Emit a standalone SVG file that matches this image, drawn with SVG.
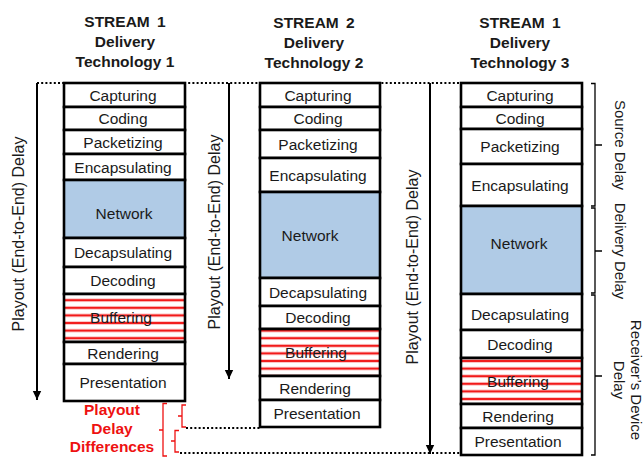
<svg xmlns="http://www.w3.org/2000/svg" width="644" height="457" viewBox="0 0 644 457">
  <defs>
    <style>
      text { font-family: "Liberation Sans", Arial, sans-serif; fill: #1a1a1a; }
      .title { font-size: 15.5px; font-weight: bold; text-anchor: middle; }
      .lbl { font-size: 15.5px; text-anchor: middle; dominant-baseline: central; }
      .side { font-size: 16px; text-anchor: middle; dominant-baseline: central; }
      .rside { font-size: 15px; text-anchor: middle; dominant-baseline: central; }
      .red { font-size: 15.5px; font-weight: bold; text-anchor: middle; fill: #ee1111; }
      .cell { fill: #ffffff; stroke: #000000; stroke-width: 2.6; }
      .net { fill: #b0cbe6; stroke: #000000; stroke-width: 2.6; }
      .buf { fill: url(#stripes); stroke: #000000; stroke-width: 2.6; }
      .dot { fill: none; stroke: #000000; stroke-width: 2; stroke-dasharray: 2 2.2; }
      .axis { fill: none; stroke: #000000; stroke-width: 2; }
      .brace { fill: none; stroke: #000000; stroke-width: 1.3; }
      .rbrace { fill: none; stroke: #ee1111; stroke-width: 1.3; }
    </style>
    <pattern id="stripes" patternUnits="userSpaceOnUse" width="8" height="7.6">
      <rect width="8" height="7.6" fill="#ffffff"/>
      <rect y="2.6" width="8" height="2.4" fill="#f21a1a"/>
    </pattern>
    <marker id="arrow" markerWidth="10" markerHeight="10" refX="9" refY="5" orient="auto" markerUnits="userSpaceOnUse">
      <path d="M0,0.8 L9,5 L0,9.2 Z" fill="#000000"/>
    </marker>
  </defs>

  <!-- connectors: reference lines, delay axes and braces -->
  <g id="connectors">
    <path class="dot" d="M37,83 H462"/>
    <path class="dot" d="M186,428 H260"/>
    <path class="dot" d="M180,453 H461"/>
    <path class="axis" d="M37,83 V400" marker-end="url(#arrow)"/>
    <path class="axis" d="M229,83 V379" marker-end="url(#arrow)"/>
    <path class="axis" d="M430,83 V454" marker-end="url(#arrow)"/>
    <path class="brace" d="M591,83.5 H595 V206 H591 M595,145 H602"/>
    <path class="brace" d="M591,208 H595 V293 H591 M595,251 H602"/>
    <path class="brace" d="M591,295 H595 V455 H591 M595,376 H602"/>
    <path class="rbrace" d="M167,403.5 H163 V456 H167 M163,430 H159"/>
    <path class="rbrace" d="M186,405 H182 V427 H186 M182,416 H178"/>
    <path class="rbrace" d="M179,430.5 H175 V452 H179 M175,441 H171"/>
  </g>

  <!-- delay axis labels -->
  <text class="side" transform="translate(18,234) rotate(-90)">Playout (End-to-End) Delay</text>
  <text class="side" transform="translate(214,232) rotate(-90)">Playout (End-to-End) Delay</text>
  <text class="side" transform="translate(412,267) rotate(-90)">Playout (End-to-End) Delay</text>

  <!-- right-hand delay categories -->
  <text class="rside" transform="translate(620,145) rotate(90)">Source Delay</text>
  <text class="rside" transform="translate(620,251) rotate(90)">Delivery Delay</text>
  <text class="rside" transform="translate(636,380) rotate(90)">Receiver’s Device</text>
  <text class="rside" transform="translate(619,380) rotate(90)">Delay</text>

  <!-- difference label -->
  <g id="playout-diff">
    <text class="red" x="112" y="415">Playout</text>
    <text class="red" x="112" y="434">Delay</text>
    <text class="red" x="112" y="452">Differences</text>
  </g>

  <!-- stream 1, delivery technology 1 -->
  <g id="stack1">
    <text class="title" x="125" y="27" word-spacing="3">STREAM 1</text>
    <text class="title" x="125" y="47">Delivery</text>
    <text class="title" x="125" y="67">Technology 1</text>
    <rect class="cell" x="64" y="83" width="121" height="24"/>
    <rect class="cell" x="64" y="107" width="121" height="23"/>
    <rect class="cell" x="64" y="130" width="121" height="24"/>
    <rect class="cell" x="64" y="154" width="121" height="26"/>
    <rect class="net" x="64" y="180" width="121" height="58"/>
    <rect class="cell" x="64" y="238" width="121" height="29"/>
    <rect class="cell" x="64" y="267" width="121" height="27"/>
    <rect class="buf" x="64" y="294" width="121" height="48"/>
    <rect class="cell" x="64" y="342" width="121" height="22"/>
    <rect class="cell" x="64" y="364" width="121" height="37"/>
    <text class="lbl" x="123" y="95">Capturing</text>
    <text class="lbl" x="123" y="118.5">Coding</text>
    <text class="lbl" x="123" y="142">Packetizing</text>
    <text class="lbl" x="123" y="167">Encapsulating</text>
    <text class="lbl" x="124" y="213">Network</text>
    <text class="lbl" x="123" y="252.5">Decapsulating</text>
    <text class="lbl" x="123" y="280.5">Decoding</text>
    <text class="lbl" x="121" y="317">Buffering</text>
    <text class="lbl" x="123" y="353">Rendering</text>
    <text class="lbl" x="123" y="382.5">Presentation</text>
  </g>

  <!-- stream 2, delivery technology 2 -->
  <g id="stack2">
    <text class="title" x="314" y="28" word-spacing="3">STREAM 2</text>
    <text class="title" x="314" y="48">Delivery</text>
    <text class="title" x="314" y="68">Technology 2</text>
    <rect class="cell" x="260" y="83" width="120" height="24"/>
    <rect class="cell" x="260" y="107" width="120" height="23"/>
    <rect class="cell" x="260" y="130" width="120" height="28"/>
    <rect class="cell" x="260" y="158" width="120" height="34"/>
    <rect class="net" x="260" y="192" width="120" height="86"/>
    <rect class="cell" x="260" y="278" width="120" height="28"/>
    <rect class="cell" x="260" y="306" width="120" height="23"/>
    <rect class="buf" x="260" y="329" width="120" height="47"/>
    <rect class="cell" x="260" y="376" width="120" height="24"/>
    <rect class="cell" x="260" y="400" width="120" height="27"/>
    <text class="lbl" x="318" y="95">Capturing</text>
    <text class="lbl" x="318" y="118.5">Coding</text>
    <text class="lbl" x="318" y="144">Packetizing</text>
    <text class="lbl" x="318" y="175">Encapsulating</text>
    <text class="lbl" x="310" y="235">Network</text>
    <text class="lbl" x="318" y="292">Decapsulating</text>
    <text class="lbl" x="318" y="317.5">Decoding</text>
    <text class="lbl" x="316" y="352">Buffering</text>
    <text class="lbl" x="315" y="388">Rendering</text>
    <text class="lbl" x="317" y="413.5">Presentation</text>
  </g>

  <!-- stream 1, delivery technology 3 -->
  <g id="stack3">
    <text class="title" x="520" y="28" word-spacing="3">STREAM 1</text>
    <text class="title" x="520" y="48">Delivery</text>
    <text class="title" x="520" y="68">Technology 3</text>
    <rect class="cell" x="461" y="83" width="121" height="24"/>
    <rect class="cell" x="461" y="107" width="121" height="22"/>
    <rect class="cell" x="461" y="129" width="121" height="35"/>
    <rect class="cell" x="461" y="164" width="121" height="42"/>
    <rect class="net" x="461" y="206" width="121" height="88"/>
    <rect class="cell" x="461" y="294" width="121" height="36"/>
    <rect class="cell" x="461" y="330" width="121" height="28"/>
    <rect class="buf" x="461" y="358" width="121" height="46"/>
    <rect class="cell" x="461" y="404" width="121" height="24"/>
    <rect class="cell" x="461" y="428" width="121" height="27"/>
    <text class="lbl" x="520" y="95">Capturing</text>
    <text class="lbl" x="520" y="118">Coding</text>
    <text class="lbl" x="520" y="146.5">Packetizing</text>
    <text class="lbl" x="520" y="185">Encapsulating</text>
    <text class="lbl" x="519" y="243">Network</text>
    <text class="lbl" x="520" y="314">Decapsulating</text>
    <text class="lbl" x="520" y="344">Decoding</text>
    <text class="lbl" x="518" y="381">Buffering</text>
    <text class="lbl" x="518" y="416">Rendering</text>
    <text class="lbl" x="518" y="441.5">Presentation</text>
  </g>
</svg>
